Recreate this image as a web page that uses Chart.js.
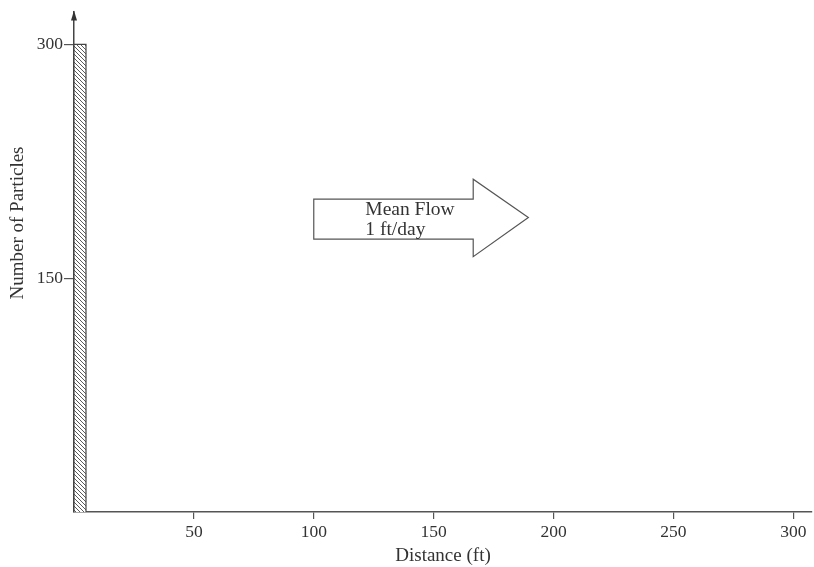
<!DOCTYPE html>
<html><head><meta charset="utf-8">
<script src="https://cdn.jsdelivr.net/npm/chart.js@4"></script>
<style>html,body{margin:0;padding:0;background:#fff}#wrap{width:814px;height:567px}</style>
</head><body><div id="wrap"><canvas id="c" width="814" height="567"></canvas></div>
<script>
// Histogram: bin edges (ft) and particle counts per bin
const binEdges = [0, 5];
const particleCounts = [300];
const xTickValues = [50, 100, 150, 200, 250, 300];
const yTickValues = [150, 300];
const xTitle = 'Distance (ft)';
const yTitle = 'Number of Particles';
const flowLabel = ['Mean Flow', '1 ft/day'];

const stepPoints = [{x: binEdges[0], y: 0}];
particleCounts.forEach((c, i) => {
  stepPoints.push({x: binEdges[i], y: c});
  stepPoints.push({x: binEdges[i + 1], y: c});
});
stepPoints.push({x: binEdges[binEdges.length - 1], y: 0});

function hatch() {
  const p = document.createElement('canvas');
  p.width = 4; p.height = 4;
  const g = p.getContext('2d');
  g.fillStyle = '#fff'; g.fillRect(0, 0, 4, 4);
  g.strokeStyle = '#5a5a5a'; g.lineWidth = 1;
  g.beginPath(); g.moveTo(-1, -1); g.lineTo(5, 5); g.stroke();
  return g.createPattern(p, 'repeat');
}

const SERIF = '"Liberation Serif", "DejaVu Serif", serif';
const TXT = '#333';

const deco = {
  id: 'deco',
  afterDraw(chart) {
    const {ctx, chartArea: a, scales: {x, y}} = chart;
    ctx.save();
    // arrowhead on y axis
    ctx.fillStyle = '#333';
    ctx.beginPath();
    ctx.moveTo(a.left, a.top - 1);
    ctx.lineTo(a.left - 3, a.top + 9);
    ctx.lineTo(a.left + 3, a.top + 9);
    ctx.closePath(); ctx.fill();
    // mean flow arrow (data units)
    const shape = [[100, 200.7], [166.5, 200.7], [166.5, 213.5], [189.5, 188.9],
                   [166.5, 163.8], [166.5, 175.1], [100, 175.1]];
    ctx.beginPath();
    shape.forEach(([xv, yv], i) => {
      const px = x.getPixelForValue(xv), py = y.getPixelForValue(yv);
      if (i === 0) ctx.moveTo(px, py); else ctx.lineTo(px, py);
    });
    ctx.closePath();
    ctx.fillStyle = '#fff'; ctx.fill();
    ctx.strokeStyle = '#555'; ctx.lineWidth = 1.2; ctx.stroke();
    ctx.fillStyle = TXT;
    ctx.font = '19.5px ' + SERIF;
    ctx.textAlign = 'left'; ctx.textBaseline = 'alphabetic';
    const tx = x.getPixelForValue(121.5);
    ctx.fillText(flowLabel[0], tx, y.getPixelForValue(190.5));
    ctx.fillText(flowLabel[1], tx, y.getPixelForValue(177.7));
    // y axis title
    ctx.translate(18, 223);
    ctx.rotate(-Math.PI / 2);
    ctx.textAlign = 'center'; ctx.textBaseline = 'middle';
    ctx.font = '19px ' + SERIF;
    ctx.fillText(yTitle, 0, 0);
    ctx.restore();
  }
};

new Chart(document.getElementById('c'), {
  type: 'line',
  data: {
    datasets: [{
      data: stepPoints,
      fill: 'origin',
      backgroundColor: hatch(),
      borderColor: '#444',
      borderWidth: 1.2,
      pointRadius: 0,
      tension: 0
    }]
  },
  options: {
    responsive: false,
    animation: false,
    layout: {padding: {top: 10, right: 2, left: 0, bottom: 0}},
    plugins: {legend: {display: false}, tooltip: {enabled: false}},
    scales: {
      x: {
        type: 'linear', min: 0, max: 307.8,
        afterBuildTicks: s => { s.ticks = xTickValues.map(v => ({value: v})); },
        afterFit: s => { s.height = 55; },
        grid: {drawOnChartArea: false, tickLength: 7, color: '#555', lineWidth: 1.2},
        border: {color: '#555', width: 1.5},
        ticks: {font: {family: SERIF, size: 17.5}, color: TXT, padding: 3, maxRotation: 0},
        title: {display: true, text: xTitle, font: {family: SERIF, size: 19}, color: TXT, padding: {top: 0, bottom: 0}}
      },
      y: {
        type: 'linear', min: 0, max: 321.1,
        afterBuildTicks: s => { s.ticks = yTickValues.map(v => ({value: v})); },
        afterFit: s => { s.width = 74; },
        grid: {drawOnChartArea: false, tickLength: 10, color: '#555', lineWidth: 1.2},
        border: {color: '#444', width: 1.5},
        ticks: {font: {family: SERIF, size: 17.5}, color: TXT, padding: 1},
        title: {display: false}
      }
    }
  },
  plugins: [deco]
});
</script>
</body></html>
